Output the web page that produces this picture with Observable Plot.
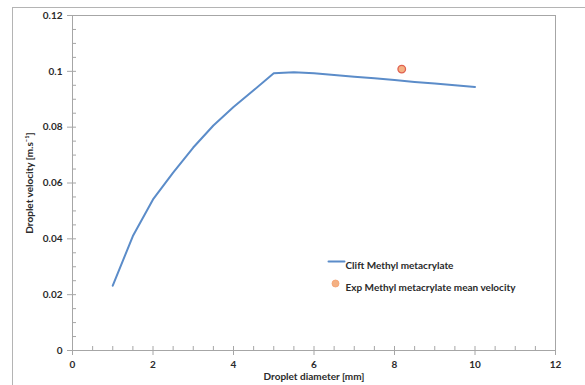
<!DOCTYPE html>
<html>
<head>
<meta charset="utf-8">
<script src="https://cdn.jsdelivr.net/npm/d3@7"></script>
<script src="https://cdn.jsdelivr.net/npm/@observablehq/plot@0.6"></script>
<style>
  html, body { margin: 0; padding: 0; background: #fff; overflow: hidden; }
  #wrap { position: relative; width: 585px; height: 385px; }
  #chartArea { position: absolute; left: 12px; top: 7px; width: 700px; height: 500px;
    border-left: 1px solid #b4b4b4; border-top: 1px solid #b4b4b4; pointer-events: none; }
  #plot { position: absolute; left: 0; top: 0; }
</style>
</head>
<body>
<div id="wrap"><div id="chartArea"></div><div id="plot"></div></div>
<script>
// Clift model curve
const diameters = [1, 1.5, 2, 2.5, 3, 3.5, 4, 4.5, 5, 5.5, 6, 6.5, 7, 7.5, 8, 8.5, 9, 9.5, 10];
const cliftVelocity = [0.0232, 0.0410, 0.0541, 0.0637, 0.0727, 0.0806, 0.0872, 0.0932, 0.0993,
  0.0997, 0.0993, 0.0987, 0.0981, 0.0975, 0.0969, 0.0962, 0.0956, 0.0950, 0.0944];
// Experimental mean
const expDiameter = [8.18];
const expVelocity = [0.1008];

const xMajor = [0, 2, 4, 6, 8, 10, 12];
const xMinor = d3.range(0, 12.001, 0.5);
const yMajor = [0, 0.02, 0.04, 0.06, 0.08, 0.1, 0.12];
const yMinor = d3.range(0, 0.12001, 0.005);
const yTickLabels = ["0", "0.02", "0.04", "0.06", "0.08", "0.1", "0.12"];

const legendLabels = ["Clift Methyl metacrylate", "Exp Methyl metacrylate mean velocity"];

const curve = diameters.map((d, i) => ({d, v: cliftVelocity[i]}));
const exp = expDiameter.map((d, i) => ({d, v: expVelocity[i]}));

const lineColor = "#5b8cc9";
const axisColor = "#a6a6a6";
const textColor = "#2b2b2b";

const noStem = {draw(ctx, l) { ctx.moveTo(0, 0); ctx.lineTo(0, -l); }};

const chart = Plot.plot({
  width: 585,
  height: 385,
  marginLeft: 72,
  marginRight: 30,
  marginTop: 15,
  marginBottom: 35,
  style: {fontFamily: "Lato, sans-serif", fontSize: "10px", fontWeight: "bold", color: textColor, background: "transparent"},
  x: {domain: [0, 12]},
  y: {domain: [0, 0.12]},
  marks: [
    Plot.frame({stroke: axisColor}),
    // minor ticks (inside)
    Plot.axisX({ticks: xMinor, tickSize: -4, text: null, stroke: axisColor, label: null}),
    Plot.axisY({ticks: yMinor, tickSize: -4, text: null, stroke: axisColor, label: null}),
    // major ticks (outside) with labels
    Plot.axisX({ticks: xMajor, tickSize: 5, tickPadding: 5, stroke: axisColor, fill: textColor,
      label: "Droplet diameter [mm]", labelAnchor: "center", labelArrow: "none", labelOffset: 29}),
    Plot.axisY({ticks: yMajor, tickSize: 5, tickPadding: 5, stroke: axisColor, fill: textColor,
      tickFormat: (d, i) => yTickLabels[i],
      label: "Droplet velocity [m.s⁻¹]", labelAnchor: "center", labelArrow: "none", labelOffset: 47}),
    Plot.line(curve, {x: "d", y: "v", stroke: lineColor, strokeWidth: 2}),
    Plot.dot(exp, {x: "d", y: "v", r: 3.8, fill: "#f4b183", stroke: "#e0604f", strokeWidth: 1.3}),
    // legend
    Plot.vector([legendLabels[0]], {frameAnchor: "top-left", dx: 256, dy: 246, length: 16, rotate: 90,
      anchor: "start", shape: noStem, stroke: lineColor, strokeWidth: 2}),
    Plot.text([legendLabels[0]], {frameAnchor: "top-left", dx: 273, dy: 246, textAnchor: "start", fill: textColor}),
    Plot.dot([legendLabels[1]], {frameAnchor: "top-left", dx: 263, dy: 268, r: 3.5, fill: "#f4b183", stroke: "#f4a070", strokeWidth: 0.8}),
    Plot.text([legendLabels[1]], {frameAnchor: "top-left", dx: 273, dy: 268, textAnchor: "start", fill: textColor})
  ]
});
document.getElementById("plot").appendChild(chart);
</script>
</body>
</html>
